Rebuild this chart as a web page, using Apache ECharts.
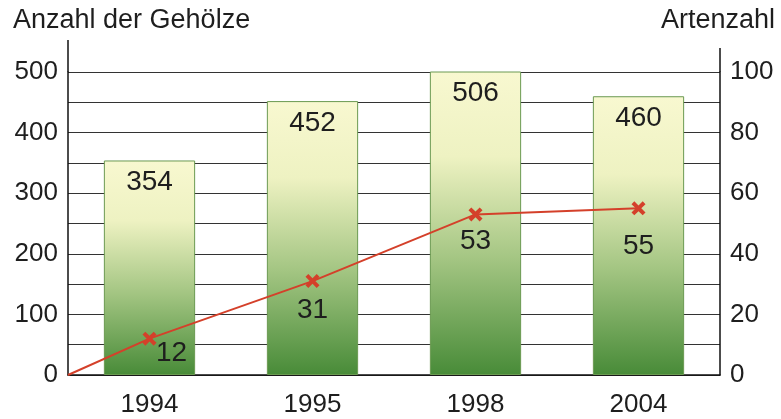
<!DOCTYPE html>
<html>
<head>
<meta charset="utf-8">
<script src="https://cdn.jsdelivr.net/npm/echarts@6/dist/echarts.min.js"></script>
<style>
  html, body { margin: 0; padding: 0; background: #fff; }
  #chart { width: 781px; height: 419px; }
</style>
</head>
<body>
<div id="chart"></div>
<script>
// data
const years = ['1994', '1995', '1998', '2004'];
const gehoelze = [354, 452, 506, 460];   // Anzahl der Gehölze (linke Achse)
const artenzahl = [12, 31, 53, 55];      // Artenzahl (rechte Achse)

const FONT = '"Liberation Sans", Arial, sans-serif';
const TXT = '#1e1e1e';

// Linie beginnt im Ursprung, Punkte in Kategoriemitte
const lineData = [[0, 0]].concat(artenzahl.map((v, i) => [i + 0.5, v]));

// Beschriftungs-Versatz der Linienwerte (wie im Original)
const lineLabelOffset = [[22, -14], [0, 0], [0, -2], [0, 9]];

const xSymbol = 'path://M2,0 L5,3 L8,0 L10,2 L7,5 L10,8 L8,10 L5,7 L2,10 L0,8 L3,5 L0,2 Z';

const chart = echarts.init(document.getElementById('chart'));

const option = {
    animation: false,
    textStyle: { fontFamily: FONT },
    title: [
        {
            text: 'Anzahl der Gehölze',
            left: 8,
            top: 2,
            textStyle: { fontFamily: FONT, fontSize: 27, fontWeight: 'normal', color: TXT }
        },
        {
            text: 'Artenzahl',
            right: 1,
            top: 2,
            textStyle: { fontFamily: FONT, fontSize: 27, fontWeight: 'normal', color: TXT }
        }
    ],
    grid: { left: 68, right: 61, top: 72, bottom: 44 },
    xAxis: [
        {
            type: 'category',
            data: years,
            axisLine: { lineStyle: { color: '#111', width: 1.5 } },
            axisTick: { show: false },
            axisLabel: { fontFamily: FONT, fontSize: 26, color: TXT, margin: 17 }
        },
        {
            type: 'value',
            min: 0,
            max: 4,
            show: false
        }
    ],
    yAxis: [
        {
            type: 'value',
            min: 0,
            max: 500,
            interval: 50,
            axisLine: { show: true, lineStyle: { color: '#111', width: 1.5 } },
            axisTick: { show: false },
            axisLabel: {
                fontFamily: FONT, fontSize: 26, color: TXT, margin: 10,
                formatter: v => (v % 100 === 0 ? v : '')
            },
            splitLine: { show: true, lineStyle: { color: '#333', width: 1 } }
        },
        {
            type: 'value',
            min: 0,
            max: 100,
            interval: 10,
            position: 'right',
            axisLine: { show: true, lineStyle: { color: '#111', width: 1.5 } },
            axisTick: { show: false },
            axisLabel: {
                fontFamily: FONT, fontSize: 26, color: TXT, margin: 10,
                formatter: v => (v % 20 === 0 ? v : '')
            },
            splitLine: { show: false }
        }
    ],
    series: [
        {
            type: 'bar',
            data: gehoelze,
            barWidth: '56%',
            itemStyle: {
                color: new echarts.graphic.LinearGradient(0, 0, 0, 1, [
                    { offset: 0, color: '#f8f8d0' },
                    { offset: 0.28, color: '#eef2c2' },
                    { offset: 0.62, color: '#a3c582' },
                    { offset: 1, color: '#488b38' }
                ]),
                borderColor: '#6b9a52',
                borderWidth: 1
            },
            label: {
                show: true,
                position: 'insideTop',
                distance: 8,
                fontFamily: FONT,
                fontSize: 28,
                color: TXT
            },
            z: 2
        },
        {
            type: 'line',
            xAxisIndex: 1,
            yAxisIndex: 1,
            data: lineData.map((p, i) => {
                if (i === 0) {
                    return { value: p, symbol: 'none', label: { show: false } };
                }
                return { value: p, label: { offset: lineLabelOffset[i - 1] } };
            }),
            symbol: xSymbol,
            symbolSize: 14,
            lineStyle: { color: '#d4402a', width: 2 },
            itemStyle: { color: '#d4402a' },
            label: {
                show: true,
                position: 'bottom',
                distance: 8,
                fontFamily: FONT,
                fontSize: 28,
                color: TXT,
                formatter: p => p.value[1]
            },
            z: 5
        }
    ]
};

chart.setOption(option);

// Achsen ragen etwas über die oberste Gitterlinie hinaus
const yTop = chart.convertToPixel({ yAxisIndex: 0 }, 500);
const xLeft = chart.convertToPixel({ xAxisIndex: 1 }, 0);
const xRight = chart.convertToPixel({ xAxisIndex: 1 }, 4);
chart.setOption({
    graphic: [
        {
            type: 'line',
            shape: { x1: xLeft, y1: yTop - 32, x2: xLeft, y2: yTop },
            style: { stroke: '#111', lineWidth: 1.5 }
        },
        {
            type: 'line',
            shape: { x1: xRight, y1: yTop - 24, x2: xRight, y2: yTop },
            style: { stroke: '#111', lineWidth: 1.5 }
        }
    ]
});
</script>
</body>
</html>
